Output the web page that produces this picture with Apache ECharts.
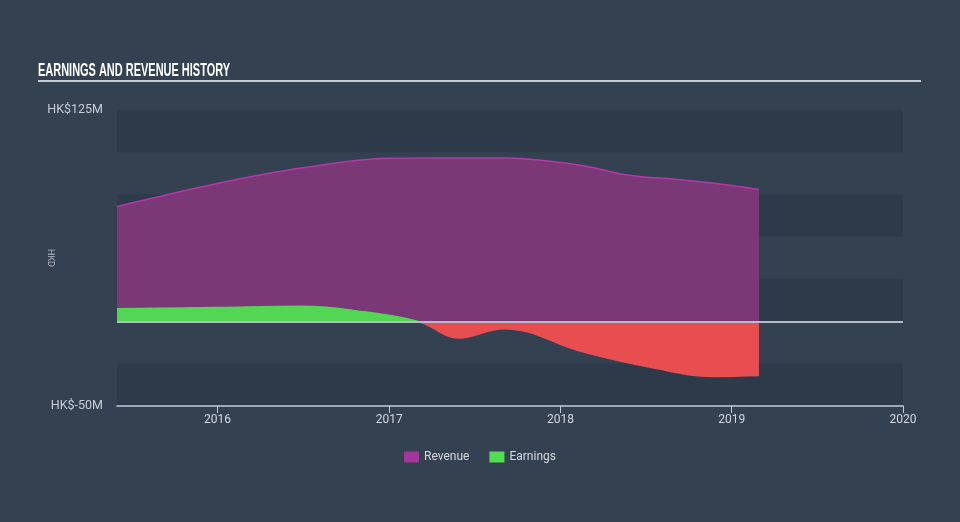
<!DOCTYPE html>
<html>
<head>
<meta charset="utf-8">
<script src="https://cdn.jsdelivr.net/npm/echarts@6/dist/echarts.min.js"></script>
<style>
html,body{margin:0;padding:0;background:#334151;}
#main{width:960px;height:522px;}
</style>
</head>
<body>
<div id="main"></div>
<script>
var revenueDates = ['2015-06-01','2016-01-01','2016-07-01','2017-01-01','2017-07-02','2017-09-05','2018-01-01','2018-03-05','2018-05-08','2018-07-01','2018-08-11','2019-01-01','2019-02-28'];
var revenueValues = [68, 81.6, 90.8, 96.4, 96.6, 96.6, 94, 91.3, 87.3, 85.3, 84.6, 80.4, 78];
var earningsDates = ['2015-06-01','2016-01-01','2016-07-01','2016-10-16','2017-03-04','2017-05-30','2017-09-02','2018-02-17','2018-07-09','2018-11-24','2019-02-28'];
var earningsValues = [7.5, 8.2, 8.9, 6.5, 0, -9.8, -4.3, -18, -27, -32.5, -32];
var yearTicks = ['2016-01-01','2017-01-01','2018-01-01','2019-01-01','2020-01-01'];
var yTickLabels = {'125': 'HK$125M', '-50': 'HK$-50M'};
var xMin = '2015-06-01', xMax = '2020-01-01';
var titleText = 'EARNINGS AND REVENUE HISTORY';

var chart = echarts.init(document.getElementById('main'));
function ts(s){ return Date.UTC(+s.slice(0,4), +s.slice(5,7) - 1, +s.slice(8,10)); }
function pairs(d, v){ return d.map(function(x,i){return [ts(x), v[i]];}); }
var yearTickTs = yearTicks.map(ts);

// condense title to the reference width
var cv = document.createElement('canvas').getContext('2d');
cv.font = 'bold 19px "Liberation Sans"';
var titleScale = 192 / cv.measureText(titleText).width;

chart.setOption({
  backgroundColor: '#334151',
  animation: false,
  graphic: [{
    type: 'text', x: 38, y: 61, scaleX: titleScale,
    style: {text: titleText, fill: '#ffffff', font: 'bold 19px "Liberation Sans"', verticalAlign: 'top'}
  }, {
    type: 'line', shape: {x1: 38, y1: 81, x2: 921, y2: 81},
    style: {stroke: '#c5cbd3', lineWidth: 2}
  }, {
    type: 'text', x: 50, y: 258, rotation: -Math.PI / 2,
    style: {text: 'HKD', fill: '#aeb6c0', font: '9px Roboto', align: 'center', verticalAlign: 'middle'}
  }],
  legend: {
    bottom: 54, left: 'center',
    itemWidth: 15, itemHeight: 11, itemGap: 20,
    icon: 'rect',
    textStyle: {color: '#d3d8de', fontSize: 12, fontFamily: 'Roboto'},
    data: [{name: 'Revenue', itemStyle: {color: '#a3379b'}}, {name: 'Earnings', itemStyle: {color: '#53e050'}}]
  },
  grid: {left: 117, right: 57, top: 110, bottom: 116},
  xAxis: {
    type: 'value', min: ts(xMin), max: ts(xMax),
    axisLine: {onZero: false, lineStyle: {color: '#c3ccd8', width: 1.5}},
    axisTick: {show: true, length: 7, customValues: yearTickTs, lineStyle: {color: '#c3ccd8'}},
    axisLabel: {color: '#d3d8de', fontSize: 12, fontFamily: 'Roboto', margin: 8,
      customValues: yearTickTs,
      formatter: function(v){ return String(new Date(v).getUTCFullYear()); }},
    splitLine: {show: false}
  },
  yAxis: {
    type: 'value', min: -50, max: 125, interval: 25,
    axisLine: {show: false}, axisTick: {show: false},
    axisLabel: {color: '#c8ced6', fontSize: 12.5, fontFamily: 'Roboto', margin: 14,
      formatter: function(v){ return yTickLabels[String(v)] || ''; }},
    splitLine: {show: false},
    splitArea: {show: true, areaStyle: {color: ['#2d3a4a', 'rgba(0,0,0,0)']}}
  },
  visualMap: {
    show: false, type: 'piecewise', seriesIndex: 2, dimension: 1,
    pieces: [{gt: 0, lte: 1000, color: '#53d653'}, {gte: -1000, lte: 0, color: '#e84e50'}],
    outOfRange: {color: '#e84e50'}
  },
  series: [{
    name: 'Revenue', type: 'line', smooth: 0.35, showSymbol: false, symbol: 'none',
    data: pairs(revenueDates, revenueValues),
    lineStyle: {color: '#b13aa7', width: 1.5},
    itemStyle: {color: '#a3379b'},
    areaStyle: {color: '#7b3877', opacity: 1},
    z: 2
  }, {
    name: 'zero', type: 'line', data: [], silent: true,
    markLine: {
      silent: true, symbol: 'none', label: {show: false},
      lineStyle: {color: '#b4bcc5', width: 2, type: 'solid'},
      data: [{yAxis: 0}]
    },
    z: 3
  }, {
    name: 'Earnings', type: 'line', smooth: 0.4, showSymbol: false, symbol: 'none',
    data: pairs(earningsDates, earningsValues),
    lineStyle: {width: 1.5},
    itemStyle: {color: '#53e050'},
    areaStyle: {opacity: 1},
    z: 4
  }]
});
</script>
</body>
</html>
